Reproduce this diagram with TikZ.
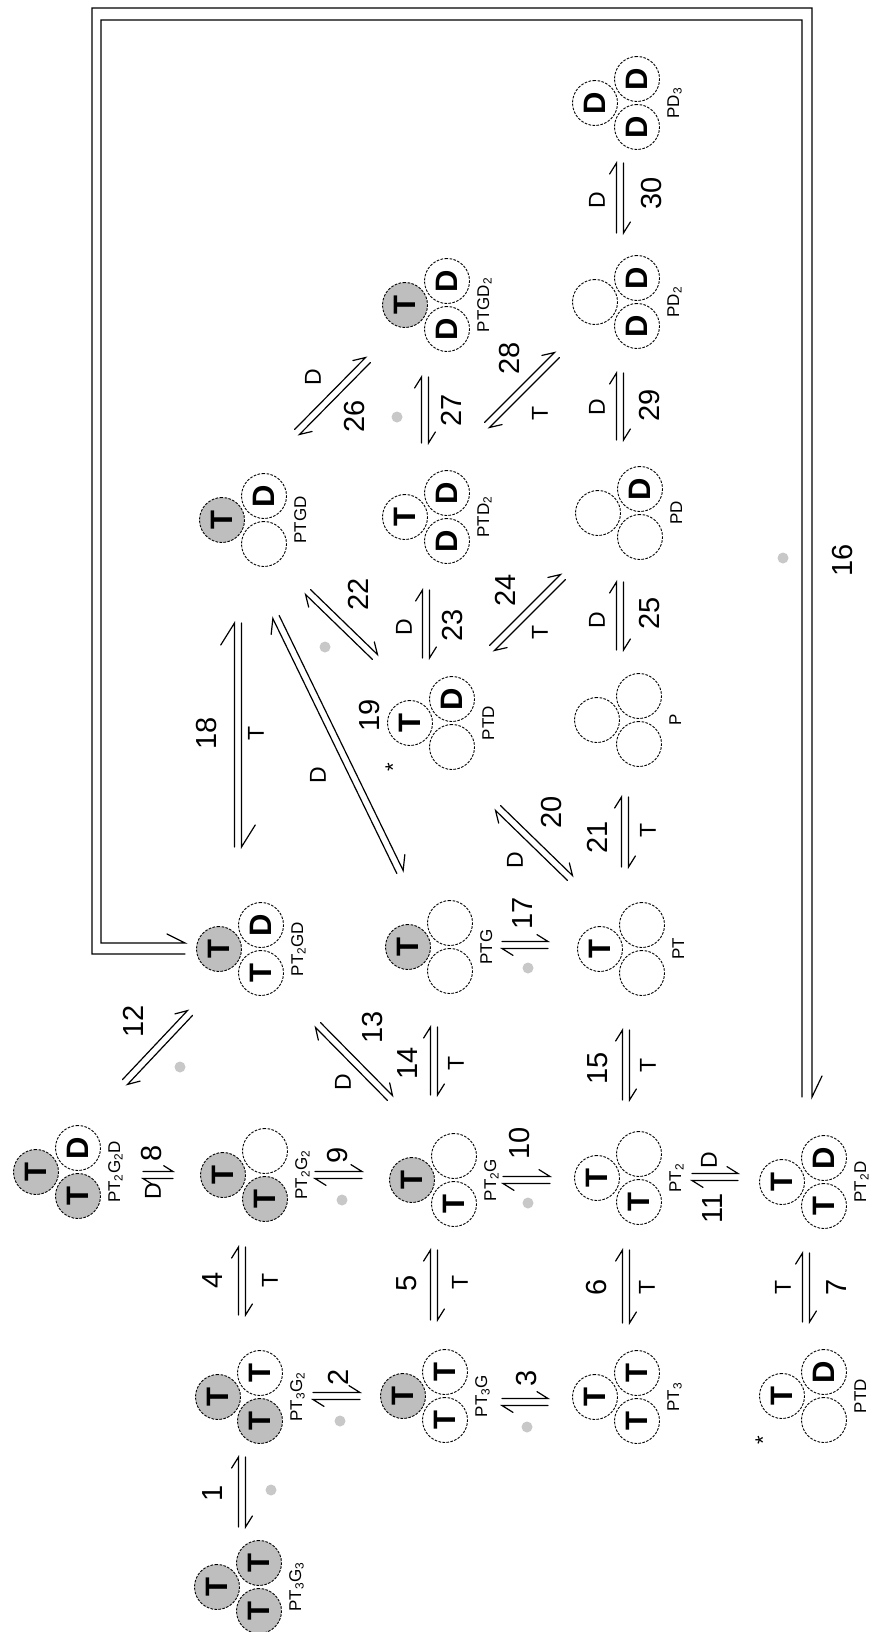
\documentclass[tikz,border=0pt]{standalone}
\usepackage{fontspec}
\setmainfont{Liberation Sans}
\usetikzlibrary{calc}
\definecolor{subgray}{RGB}{190,190,190}
\definecolor{dotgray}{RGB}{200,200,200}
\tikzset{
  sub/.style={circle, draw, minimum size=45pt, inner sep=0pt, line width=0.9pt,
    dash pattern=on 2.6pt off 1.4pt, rotate=90, font=\fontsize{31}{31}\selectfont\bfseries},
  gT/.style={sub, fill=subgray, node contents={T}},
  wT/.style={sub, fill=white, node contents={T}},
  wD/.style={sub, fill=white, node contents={D}},
  wE/.style={sub, fill=white, node contents={}},
  splabel/.style={rotate=90, inner sep=0pt, anchor=base, font=\fontsize{17}{17}\selectfont},
  num/.style={rotate=90, inner sep=0pt, font=\fontsize{29}{29}\selectfont},
  lig/.style={rotate=90, inner sep=0pt, font=\fontsize{23}{23}\selectfont},
  gdot/.style={circle, fill=dotgray, minimum size=11pt, inner sep=0pt},
  eqline/.style={line width=1.2pt, line cap=round, line join=miter},
  starlbl/.style={rotate=90, inner sep=0pt, font=\fontsize{22}{22}\selectfont},
}
\newcommand\spc[6]{%
  \coordinate (#1) at #2;
  \node (#1-l) at (#1) [#3];
  \node (#1-a) at ($(#1)+(42,-24)$) [#4];
  \node (#1-b) at ($(#1)+(42,24)$) [#5];
  \node[splabel] (#1-n) at ($(#1)+(84,0)$) {#6};
}
\newcommand\harp[4]{%
  \path ($(#3)!3.5pt!90:(#4)$) coordinate (hA) ($(#4)!3.5pt!-90:(#3)$) coordinate (hB);
  \draw[eqline] (hA) -- (hB) -- ($(hB)!#1!-#2:(hA)$);
}
\newcommand\eqm[3][13pt]{\harp{#1}{32}{#2}{#3}\harp{#1}{32}{#3}{#2}}
\newcommand\eqc[4][13pt]{%
  \coordinate (#2s) at #3; \coordinate (#2e) at #4; \eqm[#1]{#2s}{#2e}}
\begin{document}
\begin{tikzpicture}[x=1pt,y=-1pt]
\useasboundingbox (0,0) rectangle (871,1632);
\fill[white] (0,0) rectangle (871,1632);

% species
\spc{s1}{(217,1587)}{gT}{gT}{gT}{PT\textsubscript{3}G\textsubscript{3}}
\spc{s2}{(218,1397)}{gT}{wT}{gT}{PT\textsubscript{3}G\textsubscript{2}}
\spc{s3}{(403,1396)}{gT}{wT}{wT}{PT\textsubscript{3}G}
\spc{s4}{(595,1397)}{wT}{wT}{wT}{PT\textsubscript{3}}
\spc{s5}{(782,1396)}{wT}{wD}{wE}{PTD}
\spc{s6}{(36,1172)}{gT}{wD}{gT}{PT\textsubscript{2}G\textsubscript{2}D}
\spc{s7}{(223,1175)}{gT}{wE}{gT}{PT\textsubscript{2}G\textsubscript{2}}
\spc{s8}{(412,1180)}{gT}{wE}{wT}{PT\textsubscript{2}G}
\spc{s9}{(597,1178)}{wT}{wE}{wT}{PT\textsubscript{2}}
\spc{s10}{(782,1182)}{wT}{wD}{wT}{PT\textsubscript{2}D}
\spc{s11}{(219,949)}{gT}{wD}{wT}{PT\textsubscript{2}GD}
\spc{s12}{(408,947)}{gT}{wE}{wE}{PTG}
\spc{s13}{(600,949)}{wT}{wE}{wE}{PT}
\spc{s14}{(410,723)}{wT}{wD}{wE}{PTD}
\spc{s15}{(597,720)}{wE}{wE}{wE}{P}
\spc{s16}{(222,520)}{gT}{wD}{wE}{PTGD}
\spc{s17}{(405,517)}{wT}{wD}{wD}{PTD\textsubscript{2}}
\spc{s18}{(598,513)}{wE}{wD}{wE}{PD}
\spc{s19}{(405,305)}{gT}{wD}{wD}{PTGD\textsubscript{2}}
\spc{s20}{(595,302)}{wE}{wD}{wD}{PD\textsubscript{2}}
\spc{s21}{(595,103)}{wD}{wD}{wD}{PD\textsubscript{3}}

\node[starlbl] (st1) at (393,767) {*};
\node[starlbl] (st2) at (763,1440) {*};

% equilibria
\eqc{a1}{(242,1527)}{(242,1457)}
\eqc{a2}{(313,1396)}{(360,1396)}
\eqc{a3}{(502,1402)}{(548,1402)}
\eqc{a4}{(242,1315)}{(242,1247)}
\eqc{a5}{(434,1320)}{(434,1250)}
\eqc{a6}{(626,1323)}{(626,1250)}
\eqc{a7}{(806,1322)}{(806,1253)}
\eqc[11pt]{a8}{(143,1175)}{(173,1175)}
\eqc{a9}{(315,1175)}{(362,1175)}
\eqc{a10}{(503,1180)}{(550,1180)}
\eqc{a11}{(692,1177)}{(738,1177)}
\eqc{a12}{(125,1082)}{(190,1013)}
\eqc{a13}{(318,1025)}{(390,1098)}
\eqc{a14}{(434,1095)}{(434,1027)}
\eqc{a15}{(626,1100)}{(626,1030)}
\eqc{a17}{(502,945)}{(548,945)}
\eqc[26pt]{a18}{(238,847)}{(238,623)}
\eqc[16pt]{a19}{(400,872)}{(276,617)}
\eqc{a20}{(570,878)}{(498,808)}
\eqc{a21}{(625,867)}{(625,797)}
\eqc{a22}{(375,657)}{(308,592)}
\eqc{a23}{(426,658)}{(426,590)}
\eqc{a24}{(492,648)}{(563,577)}
\eqc{a25}{(620,650)}{(620,582)}
\eqc{a26}{(297,432)}{(368,360)}
\eqc{a27}{(425,443)}{(425,377)}
\eqc{a28}{(487,425)}{(557,355)}
\eqc{a29}{(620,440)}{(620,373)}
\eqc{a30}{(620,233)}{(620,163)}

% big loop (16)
\coordinate (fi0) at (802,1097); \coordinate (fi1) at (802,20);
\coordinate (fi2) at (101,20);   \coordinate (fi3) at (101,943);
\coordinate (fi4) at (185,943);
\draw[eqline] (fi0) -- (fi1) -- (fi2) -- (fi3) -- (fi4) -- ++(-18,-9);
\coordinate (fo0) at (185,954); \coordinate (fo1) at (92,954);
\coordinate (fo2) at (92,8);    \coordinate (fo3) at (812,8);
\coordinate (fo4) at (812,1097);
\draw[eqline] (fo0) -- (fo1) -- (fo2) -- (fo3) -- (fo4) -- ++(10,-21);

% numbers
\node[num] (n1) at (213,1493) {1};
\node[num] (n2) at (338,1377) {2};
\node[num] (n3) at (527,1378) {3};
\node[num] (n4) at (213,1280) {4};
\node[num] (n5) at (407,1283) {5};
\node[num] (n6) at (597,1287) {6};
\node[num] (n7) at (837,1287) {7};
\node[num] (n8) at (152,1153) {8};
\node[num] (n9) at (338,1155) {9};
\node[num] (n10) at (520,1143) {10};
\node[num] (n11) at (713,1208) {11};
\node[num] (n12) at (133,1021) {12};
\node[num] (n13) at (373,1027) {13};
\node[num] (n14) at (408,1063) {14};
\node[num] (n15) at (598,1068) {15};
\node[num] (n16) at (843,560) {16};
\node[num] (n17) at (523,913) {17};
\node[num] (n18) at (207,733) {18};
\node[num] (n19) at (370,715) {19};
\node[num] (n20) at (552,812) {20};
\node[num] (n21) at (597,837) {21};
\node[num] (n22) at (358,594) {22};
\node[num] (n23) at (453,625) {23};
\node[num] (n24) at (505,590) {24};
\node[num] (n25) at (650,613) {25};
\node[num] (n26) at (355,416) {26};
\node[num] (n27) at (451,410) {27};
\node[num] (n28) at (510,358) {28};
\node[num] (n29) at (650,405) {29};
\node[num] (n30) at (652,193) {30};

% ligand letters
\node[lig] (l4) at (270,1280) {T};
\node[lig] (l5) at (460,1282) {T};
\node[lig] (l6) at (647,1287) {T};
\node[lig] (l7) at (783,1287) {T};
\node[lig] (l8) at (153,1191) {D};
\node[lig] (l11) at (709,1160) {D};
\node[lig] (l13) at (343,1082) {D};
\node[lig] (l14) at (456,1063) {T};
\node[lig] (l15) at (648,1065) {T};
\node[lig] (l18) at (256,733) {T};
\node[lig] (l19) at (318,775) {D};
\node[lig] (l20) at (515,860) {D};
\node[lig] (l21) at (648,830) {T};
\node[lig] (l23) at (404,627) {D};
\node[lig] (l24) at (540,632) {T};
\node[lig] (l25) at (597,620) {D};
\node[lig] (l26) at (313,377) {D};
\node[lig] (l28) at (540,413) {T};
\node[lig] (l29) at (597,407) {D};
\node[lig] (l30) at (597,200) {D};

% released-G dots
\node[gdot] (d1) at (271,1490) {};
\node[gdot] (d2) at (340,1421) {};
\node[gdot] (d3) at (527,1427) {};
\node[gdot] (d9) at (342,1200) {};
\node[gdot] (d10) at (528,1203) {};
\node[gdot] (d12) at (180,1067) {};
\node[gdot] (d17) at (528,968) {};
\node[gdot] (d22) at (325,647) {};
\node[gdot] (d26) at (397,417) {};
\node[gdot] (d16) at (783,558) {};
\end{tikzpicture}
\end{document}
